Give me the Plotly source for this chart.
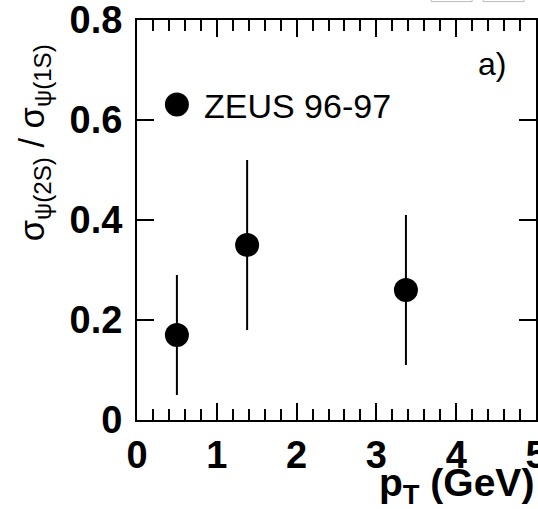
import plotly.graph_objects as go

# ZEUS 96-97 psi(2S)/J/psi ratio vs pT
pt = [0.5, 1.38, 3.37]
ratio = [0.17, 0.35, 0.26]
err_up = [0.12, 0.17, 0.15]
err_dn = [0.12, 0.17, 0.15]
series_name = 'ZEUS 96-97'

x_ticks = [0, 1, 2, 3, 4, 5]
y_ticks = [0, 0.2, 0.4, 0.6, 0.8]
y_ticklabels = ['0', '0.2', '0.4', '0.6', '0.8']

FONT = 'Liberation Sans'

fig = go.Figure()
fig.add_trace(go.Scatter(
    x=pt, y=ratio, mode='markers', name=series_name,
    marker=dict(color='black', size=24),
    error_y=dict(type='data', symmetric=False, array=err_up, arrayminus=err_dn,
                 color='black', thickness=2, width=0),
    showlegend=False))

# legend key drawn by hand (plotly caps legend markers at 16px)
fig.add_shape(type='circle', xref='x', yref='y',
              xsizemode='pixel', ysizemode='pixel',
              xanchor=0.5, yanchor=0.631, x0=-12, x1=12, y0=-12, y1=12,
              fillcolor='black', line=dict(color='black', width=0))
fig.add_annotation(x=0.81, y=0.629, xref='x', yref='y', text=series_name,
                   showarrow=False, xanchor='left', yanchor='middle',
                   font=dict(family=FONT, size=34, color='black'))
fig.add_annotation(x=0.93, y=0.89, xref='paper', yref='paper', text='a)',
                   showarrow=False, xanchor='right', yanchor='middle',
                   font=dict(family=FONT, size=32, color='black'))

# axis titles
fig.add_annotation(x=1.0, y=-0.1625, xref='paper', yref='paper',
                   text='<b>p<sub>T</sub> (GeV)</b>', showarrow=False,
                   xanchor='right', yanchor='middle',
                   font=dict(family=FONT, size=39, color='black'))
fig.add_annotation(x=-0.2575, y=0.6925, xref='paper', yref='paper',
                   text='σ<sub>ψ(2S)</sub> / σ<sub>ψ(1S)</sub>', showarrow=False,
                   textangle=-90, xanchor='center', yanchor='middle',
                   font=dict(family=FONT, size=34.5, color='black'))

# cut-off boxes at the top edge
fig.add_shape(type='rect', xref='paper', yref='paper', x0=0.7375, x1=0.84, y0=1.046, y1=1.07,
              line=dict(color='#bbbbbb', width=1), fillcolor='white')
fig.add_shape(type='rect', xref='paper', yref='paper', x0=0.8675, x1=0.97, y0=1.046, y1=1.07,
              line=dict(color='#bbbbbb', width=1), fillcolor='white')

axis_common = dict(showline=True, linecolor='black', linewidth=2, mirror='ticks',
                   ticks='inside', tickcolor='black', tickwidth=2, ticklen=17,
                   showgrid=False, zeroline=False, automargin=False,
                   ticklabeloverflow='allow',
                   tickfont=dict(family=FONT, size=38, color='black', weight='bold'))

fig.update_xaxes(range=[0, 5], tickvals=x_ticks, ticktext=[str(v) for v in x_ticks],
                 minor=dict(dtick=0.2, ticks='inside', ticklen=11, tickcolor='black', tickwidth=2),
                 ticklabelstandoff=0, **axis_common)
fig.update_yaxes(range=[0, 0.8], tickvals=y_ticks, ticktext=y_ticklabels,
                 ticklabelstandoff=5, **axis_common)

fig.update_layout(template='none', width=538, height=509,
                  margin=dict(l=137, r=2, t=20, b=89, autoexpand=False),
                  plot_bgcolor='white', paper_bgcolor='white',
                  showlegend=False)

# drop the default page margin so the figure fills the window exactly
fig.write_html('out.html', config={'displayModeBar': False},
               post_script="document.body.style.margin='0';document.body.style.overflow='hidden';")
